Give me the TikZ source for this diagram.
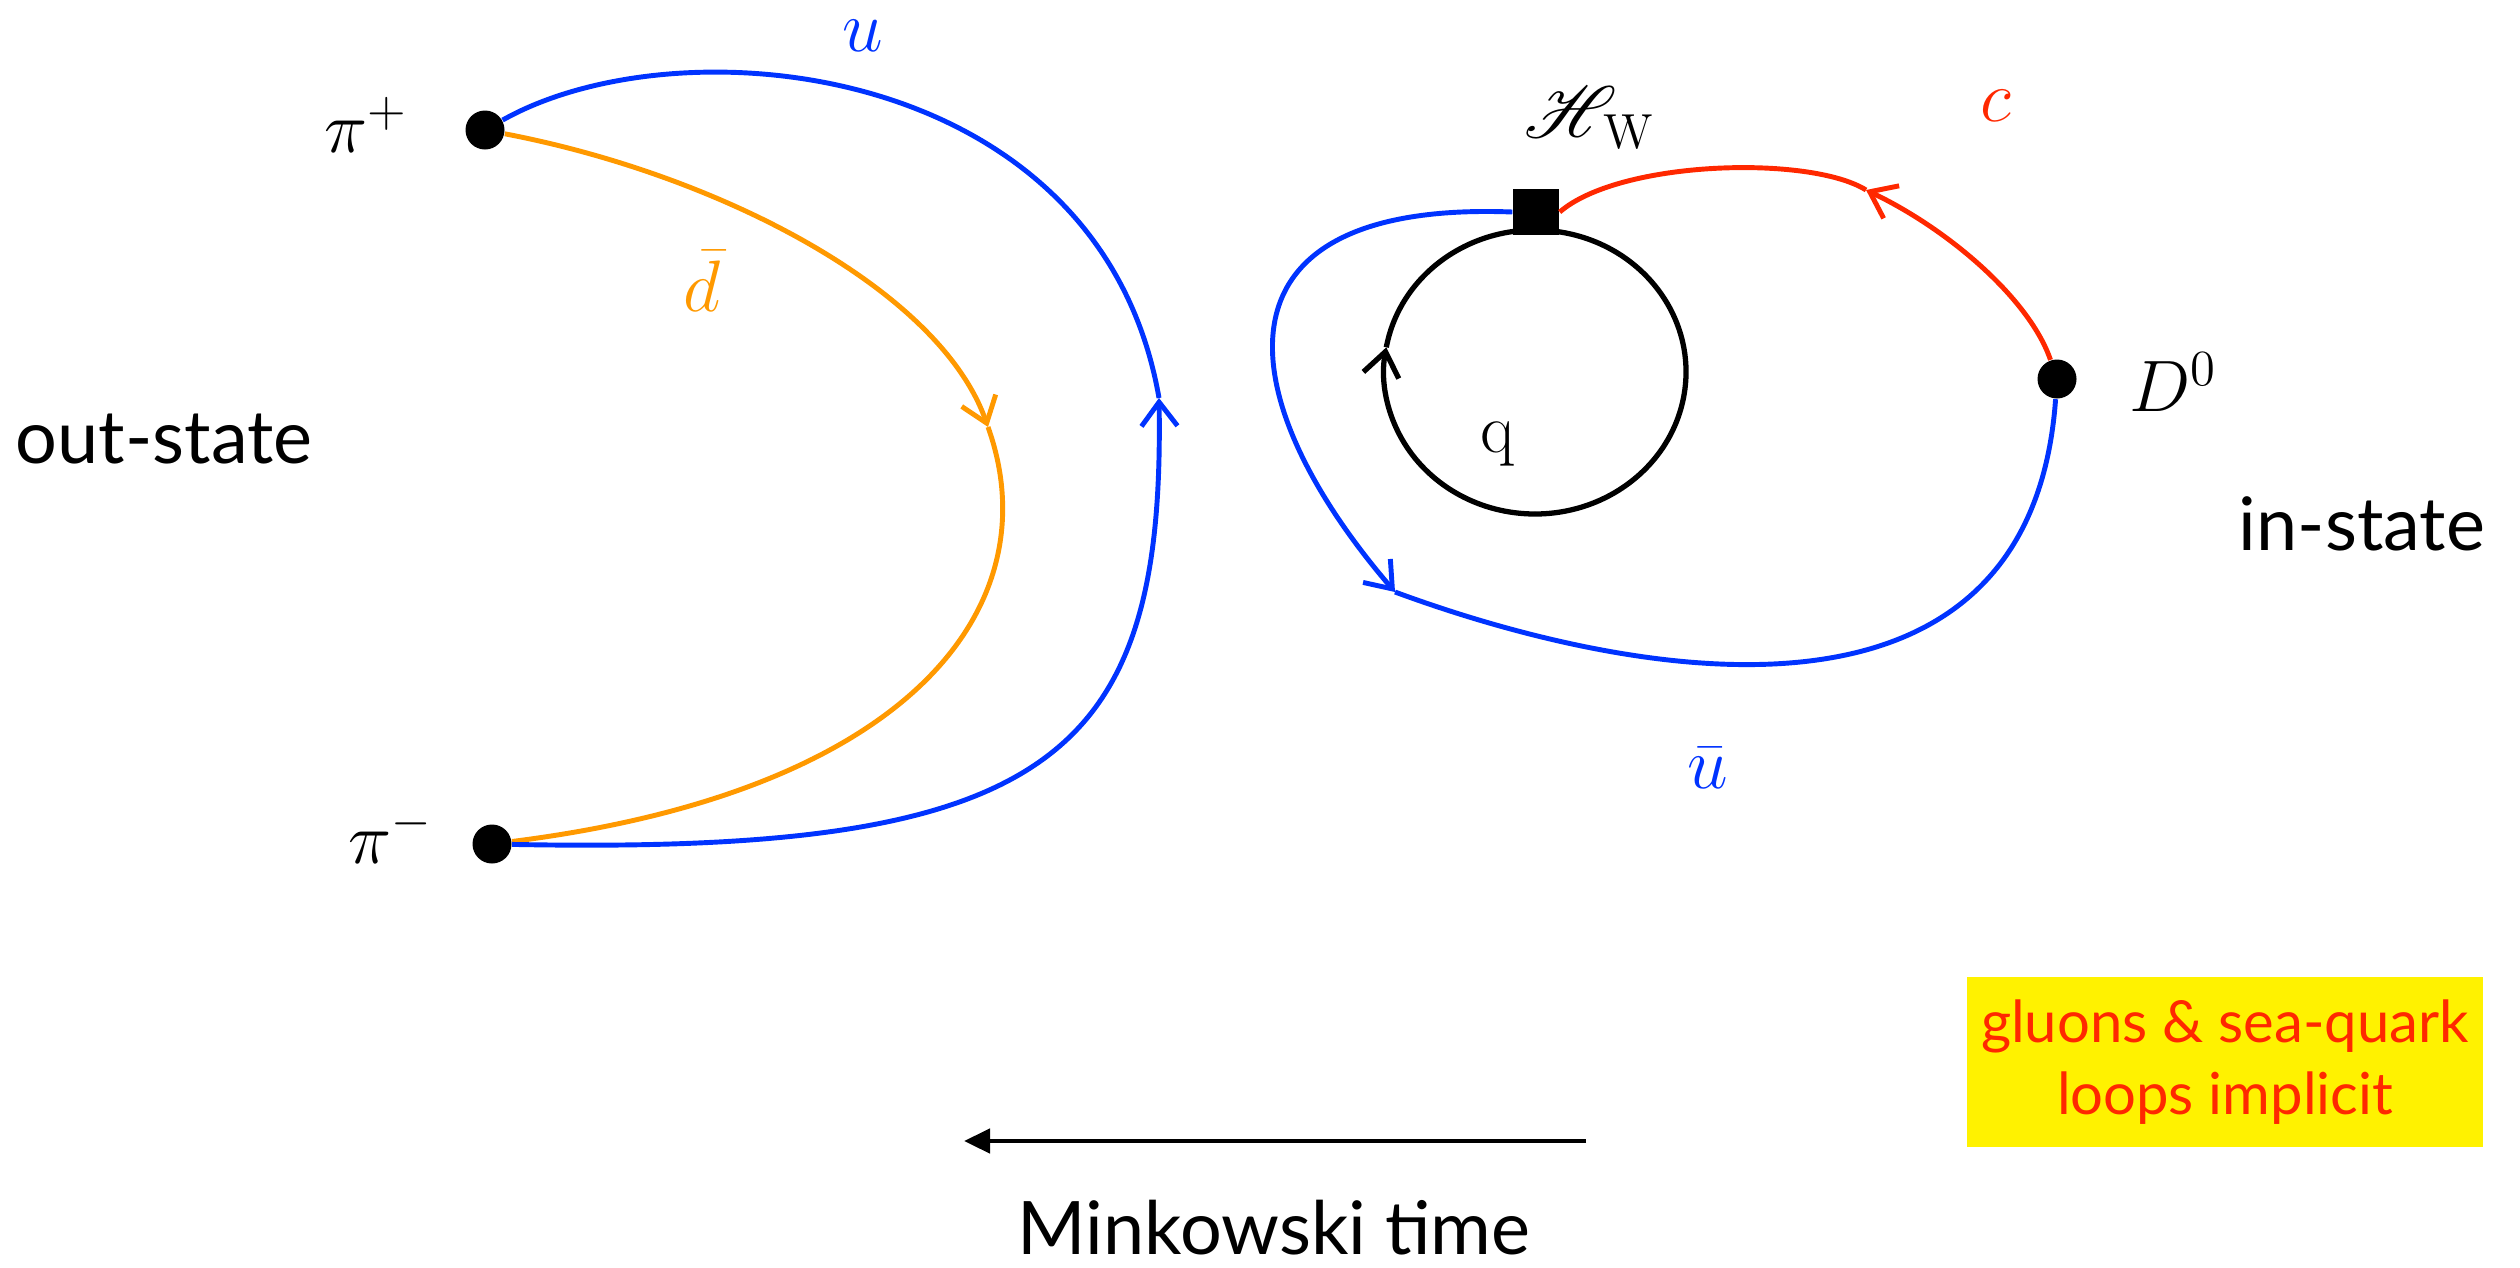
\documentclass[tikz,border=0pt]{standalone}
\usepackage{fontspec}
\usepackage{mathrsfs}
\usepackage{xcolor}
\usepackage{tikz}
\usetikzlibrary{arrows.meta}
\newfontfamily\gill{Lato}
\definecolor{qblue}{RGB}{0,51,255}
\definecolor{qorange}{RGB}{255,153,0}
\definecolor{qred}{RGB}{255,40,0}

\begin{document}
\begin{tikzpicture}[
    quark/.style={line width=1.4pt},
    fwd/.style={-{Straight Barb[length=2.4mm,width=3.6mm]}},
    meson/.style={circle,fill=black,inner sep=0pt,minimum size=3.9mm},
    lbl/.style={font=\fontsize{20}{24}\selectfont},
    txt/.style={font=\gill\fontsize{21}{25}\selectfont}]
        \useasboundingbox (0,0) rectangle (25.2,-12.67);
        % mesons and the weak vertex
        \node[meson] (pip) at (4.85,-1.30) {};
        \node[meson] (pim) at (4.92,-8.44) {};
        \node[meson] (dzero) at (20.57,-3.79) {};
        \node[fill=black,inner sep=0pt,minimum size=4.6mm] (hw) at (15.36,-2.12) {};
        \coordinate (loopc) at (15.35,-3.72);
        % where the arrows sit
        \coordinate (dmid) at (9.88,-4.27);
        \coordinate (umid) at (11.59,-3.98);
        \coordinate (cmid) at (18.66,-1.90);
        \coordinate (ubmid) at (13.95,-5.92);
        % out-state: pi+ pi-
        \draw[quark,qorange,fwd] (pip) .. controls (7.2,-1.75) and (9.4,-2.9) .. (dmid);
        \draw[quark,qorange] (dmid) .. controls (10.5,-6.0) and (9.2,-7.9) .. (pim);
        \draw[quark,qblue,fwd] (pim) .. controls (10.5,-8.55) and (11.65,-7.6) .. (umid);
        \draw[quark,qblue] (umid) .. controls (11.0,-0.6) and (6.8,-0.2) .. (pip);
        % in-state: D0 through the weak vertex
        \draw[quark,qred,fwd] (dzero) .. controls (20.3,-3.0) and (19.5,-2.3) .. (cmid);
        \draw[quark,qred] (cmid) .. controls (18.1,-1.55) and (16.2,-1.6) .. (hw.east);
        \draw[quark,qblue,fwd] (hw.west) .. controls (12.0,-2.0) and (12.3,-4.0) .. (ubmid);
        \draw[quark,qblue] (ubmid) .. controls (16.2,-6.75) and (20.3,-7.6) .. (dzero);
        \draw[line width=1.5pt,fwd] (loopc) ++(0,-1.42) arc[start angle=270,end angle=170,x radius=1.51,y radius=1.42];
        \draw[line width=1.5pt] (loopc) ++(170:1.51 and 1.42) arc[start angle=170,end angle=-90,x radius=1.51,y radius=1.42];
        % labels
        \node[lbl] (pipl) at (3.66,-1.25) {$\pi^+$};
        \node[lbl] (piml) at (3.91,-8.35) {$\pi^-$};
        \node[lbl] (dzl) at (21.73,-3.82) {$D^0$};
        \node[lbl] (hwl) at (15.90,-1.18) {$\mathscr{H}_{\,\mathrm{W}}$};
        \node[lbl] (ql) at (14.98,-4.44) {q};
        \node[lbl,qblue,inner sep=0pt] (ul) at (8.63,-0.36) {$u$};
        \node[lbl,qorange] (dl) at (7.02,-2.81) {$\bar d$};
        \node[lbl,qred] (cl) at (19.96,-1.06) {$c$};
        \node[lbl,qblue] (ubl) at (17.08,-7.68) {$\bar u$};
        \node[txt] (outl) at (1.64,-4.39) {out-state};
        \node[txt] (inl) at (23.62,-5.24) {in-state};
        % time direction
        \coordinate (tstart) at (15.86,-11.41);
        \coordinate (tend) at (9.64,-11.41);
        \draw[line width=1.3pt,-{Triangle[length=2.6mm,width=2.4mm]}] (tstart) -- (tend);
        \node[txt] (mink) at (12.74,-12.28) {Minkowski time};
        \node[fill=yellow,text=qred,align=center,minimum width=5.16cm,minimum height=1.70cm,
              inner sep=1pt,font=\gill\fontsize{16.5}{20.5}\selectfont] (note) at (22.25,-10.62) {gluons \& sea-quark\\loops implicit};
\end{tikzpicture}
\end{document}
